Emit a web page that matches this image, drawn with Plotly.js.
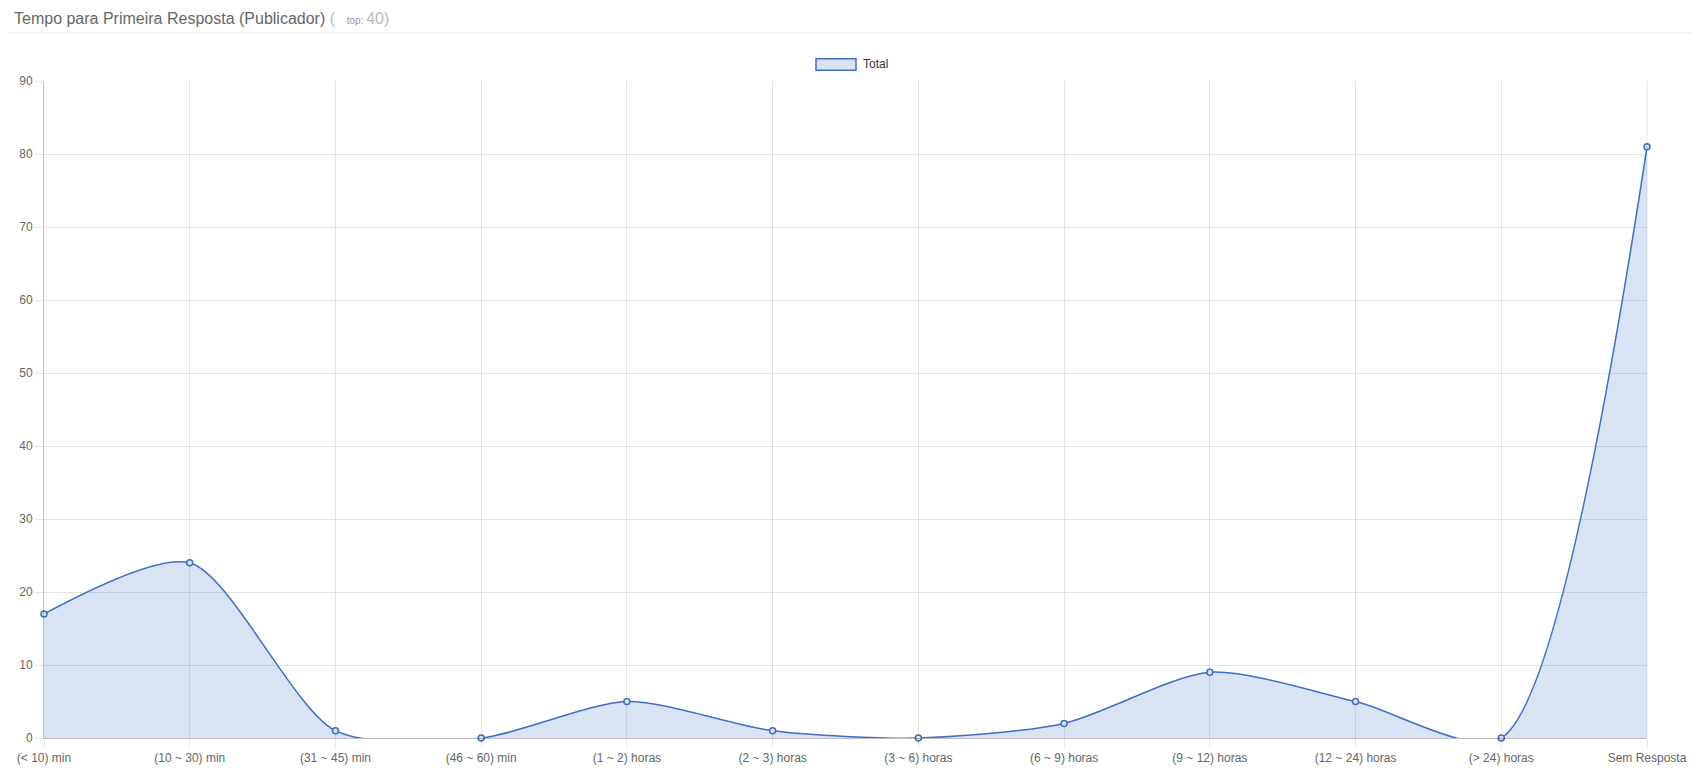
<!DOCTYPE html>
<html>
<head>
<meta charset="utf-8">
<script src="https://cdn.plot.ly/plotly-3.0.1.min.js"></script>
<style>html,body{margin:0;padding:0;background:#fff;}#chart{width:1701px;height:775px;}</style>
</head>
<body>
<div id="chart"></div>
<script>
const categories = ["(< 10) min", "(10 ~ 30) min", "(31 ~ 45) min", "(46 ~ 60) min", "(1 ~ 2) horas", "(2 ~ 3) horas", "(3 ~ 6) horas", "(6 ~ 9) horas", "(9 ~ 12) horas", "(12 ~ 24) horas", "(> 24) horas", "Sem Resposta"];
const totalValues = [17, 24, 1, 0, 5, 1, 0, 2, 9, 5, 0, 81];
const yTicks = [0, 10, 20, 30, 40, 50, 60, 70, 80, 90];
const seriesName = "Total";

const lineColor = "#3f6ec3";
const fillColor = "rgba(68,114,196,0.2)";

const trace = {
  type: "scatter",
  mode: "lines+markers",
  x: categories,
  y: totalValues,
  name: seriesName,
  fill: "tozeroy",
  fillcolor: fillColor,
  line: {color: lineColor, width: 1.5, shape: "spline", smoothing: 0.75},
  marker: {size: 6, color: "rgba(218,227,243,1)", line: {color: lineColor, width: 1.5}},
  showlegend: false,
  cliponaxis: false,
  hoverinfo: "x+y"
};

const plotL = 44.3, plotR = 1646.7, plotT = 81.3, plotB = 738.3;
const pw = plotR - plotL, ph = plotB - plotT;
const px = v => (v - plotL) / pw;
const py = v => (plotB - v) / ph;

const layout = {
  width: 1701, height: 775,
  margin: {l: plotL, r: 1701 - plotR, t: plotT, b: 775 - plotB, pad: 0},
  paper_bgcolor: "#fff", plot_bgcolor: "#fff",
  font: {family: "Liberation Sans, Arial, sans-serif", size: 12, color: "#666"},
  title: {
    text: "Tempo para Primeira Resposta (Publicador) <span style='color:#bbb'>(  </span><span style='font-size:10px;color:#999'> top: </span><span style='color:#bbb'>40)</span>",
    font: {family: "Liberation Sans, Arial, sans-serif", size: 16, color: "#666"},
    xref: "container", yref: "container",
    x: 14 / 1701, xanchor: "left",
    y: 1 - 18 / 775, yanchor: "middle"
  },
  xaxis: {
    type: "category",
    range: [0, categories.length - 1],
    showgrid: true, gridcolor: "rgba(0,0,0,0.1)", gridwidth: 1,
    ticks: "outside", ticklen: 9, tickcolor: "rgba(0,0,0,0.1)",
    showline: true, linecolor: "rgba(0,0,0,0.25)", linewidth: 1,
    tickfont: {size: 12, color: "#666"},
    zeroline: false, fixedrange: true
  },
  yaxis: {
    range: [0, 90],
    tickvals: yTicks,
    showgrid: true, gridcolor: "rgba(0,0,0,0.1)", gridwidth: 1,
    ticks: "outside", ticklen: 8, tickcolor: "rgba(0,0,0,0.1)",
    showline: true, linecolor: "rgba(0,0,0,0.25)", linewidth: 1,
    tickfont: {size: 12, color: "#666"},
    zeroline: false, fixedrange: true
  },
  shapes: [
    {type: "line", xref: "paper", yref: "paper", x0: px(8), x1: px(1692), y0: py(33), y1: py(33), line: {color: "#eeeeee", width: 1}},
    {type: "line", xref: "paper", yref: "paper", x0: 1, x1: 1, y0: 0, y1: 1, line: {color: "rgba(0,0,0,0.1)", width: 1}},
    {type: "rect", xref: "paper", yref: "paper", x0: px(816), x1: px(856), y0: py(70.5), y1: py(59), line: {color: lineColor, width: 1.5}, fillcolor: fillColor}
  ],
  annotations: [
    {xref: "paper", yref: "paper", x: px(861), y: py(64.5), xanchor: "left", yanchor: "middle", text: seriesName, showarrow: false, font: {size: 12, color: "#333"}}
  ],
  hovermode: "closest"
};

Plotly.newPlot("chart", [trace], layout, {displayModeBar: false, responsive: false});
</script>
</body>
</html>
